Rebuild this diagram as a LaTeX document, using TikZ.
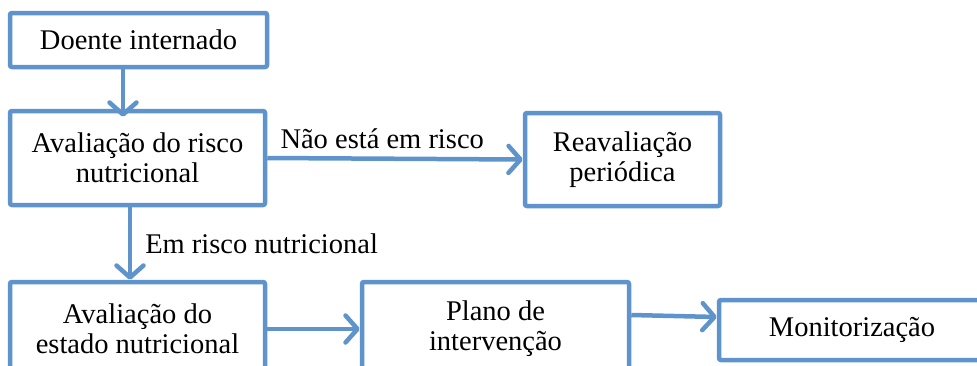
\documentclass[tikz,border=0pt]{standalone}
\usepackage{fontspec}
\setmainfont{Liberation Serif}
\usepackage{tikz}
\usetikzlibrary{arrows.meta, positioning}
\definecolor{boxline}{HTML}{5F93CB}
\definecolor{boxfill}{HTML}{FFFFFF}
\tikzset{
  stepbox/.style = {rectangle, rounded corners=2pt, draw=boxline, fill=boxfill,
                    line width=4.5pt, align=center, inner sep=0pt,
                    font=\fontsize{28.5}{30}\selectfont},
  lbl/.style     = {font=\fontsize{28.5}{30}\selectfont, inner sep=0pt},
  flow/.style    = {-{Straight Barb[length=12pt, width=27pt, round]}, line width=4.5pt, draw=boxline},
}
\begin{document}
\begin{tikzpicture}[x=1pt, y=-1pt]
  \useasboundingbox (0,0) rectangle (977,365);
  \clip (0,0) rectangle (977,365);
  \node[stepbox, minimum width=257pt, minimum height=54pt] (doente) at (138.5,40) {Doente internado};
  \node[stepbox, minimum width=255pt, minimum height=94pt] (risco) at (137.5,158) {Avaliação do risco\\nutricional};
  \node[stepbox, minimum width=195pt, minimum height=93pt] (reav) at (622.5,159.5) {Reavaliação\\periódica};
  \node[stepbox, minimum width=255pt, minimum height=94pt] (estado) at (137.5,329) {Avaliação do\\estado nutricional};
  \node[stepbox, minimum width=267pt, minimum height=94pt] (plano) at (495.5,329) {Plano de\\intervenção};
  \node[stepbox, minimum width=266pt, minimum height=60pt] (monit) at (852,330) {Monitorização};
  % ligações
  \draw[flow] ([xshift=-15.5pt]doente.south) -- ([xshift=-14.5pt, yshift=-8pt]risco.north);
  \draw[flow] ([xshift=-7.5pt]risco.south) -- ([xshift=-7.5pt]estado.north)
    node[lbl, midway, anchor=west, xshift=13pt] (lblsim) {Em risco nutricional};
  \draw[flow] (risco.east) -- (reav.west)
    node[lbl, pos=0, anchor=base west, xshift=11pt, yshift=10pt] (lblnao) {Não está em risco};
  \draw[flow] (estado.east) -- (plano.west);
  \draw[flow] ([yshift=14pt]plano.east) -- ([yshift=13pt]monit.west);
\end{tikzpicture}
\end{document}
